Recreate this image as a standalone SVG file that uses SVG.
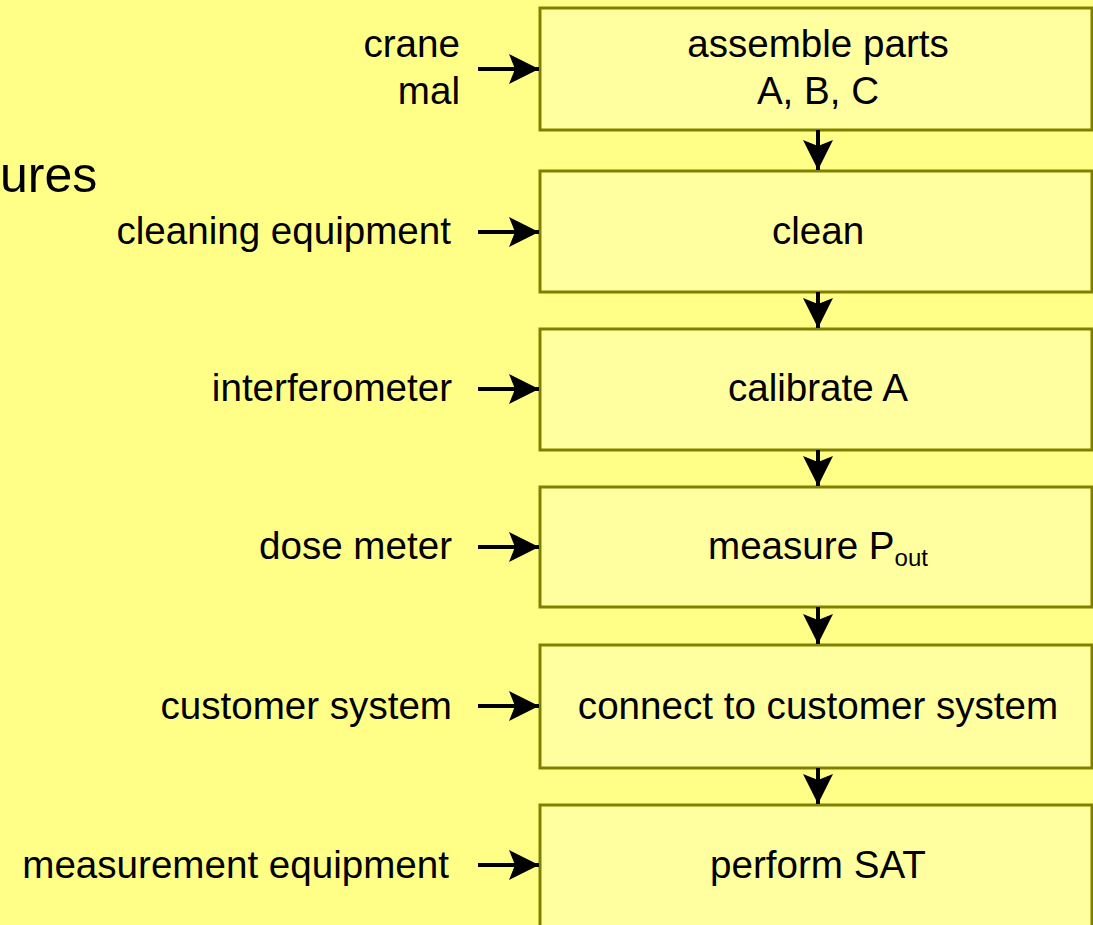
<svg xmlns="http://www.w3.org/2000/svg" width="1093" height="925" viewBox="0 0 1093 925">
<style>
.box{fill:#FFFFA0;stroke:#808000;stroke-width:3}
.t{font-family:"Liberation Sans",Arial,sans-serif;font-size:38.6px;fill:#000}
.c{text-anchor:middle}
.r{text-anchor:end}
.ln{stroke:#000;stroke-width:4;fill:none}
</style>
<defs>
<marker id="ah" viewBox="0 0 10 10" refX="10" refY="5" markerWidth="7.5" markerHeight="7.5" markerUnits="strokeWidth" orient="auto">
<path d="M0,0 L10,5 L0,10 L2,5 Z" fill="#000"/>
</marker>
</defs>
<rect width="1093" height="925" fill="#FFFF88"/>
<text class="t" x="0" y="192" style="font-size:50px">ures</text>
<g id="n1"><rect class="box" x="540" y="8" width="552" height="122"/><text class="t c" x="818" y="57">assemble parts</text><text class="t c" x="818" y="104">A, B, C</text></g>
<g id="n2"><rect class="box" x="540" y="171" width="552" height="121"/><text class="t c" x="818" y="244">clean</text></g>
<g id="n3"><rect class="box" x="540" y="329" width="552" height="121"/><text class="t c" x="818" y="401">calibrate A</text></g>
<g id="n4"><rect class="box" x="540" y="487" width="552" height="120"/><text class="t c" x="818" y="559">measure P<tspan font-size="24" dy="7">out</tspan></text></g>
<g id="n5"><rect class="box" x="540" y="645" width="552" height="123"/><text class="t c" x="818" y="719">connect to customer system</text></g>
<g id="n6"><rect class="box" x="540" y="805" width="552" height="130"/><text class="t c" x="818" y="878">perform SAT</text></g>
<g id="labels">
<text class="t r" x="460" y="57">crane</text>
<text class="t r" x="460" y="104">mal</text>
<text class="t r" x="451" y="244">cleaning equipment</text>
<text class="t r" x="452" y="401">interferometer</text>
<text class="t r" x="452" y="559">dose meter</text>
<text class="t r" x="452" y="719">customer system</text>
<text class="t r" x="449" y="878">measurement equipment</text>
</g>
<g id="connectors">
<line class="ln" x1="818" y1="130" x2="818" y2="170" marker-end="url(#ah)"/>
<line class="ln" x1="818" y1="292" x2="818" y2="328" marker-end="url(#ah)"/>
<line class="ln" x1="818" y1="450" x2="818" y2="486" marker-end="url(#ah)"/>
<line class="ln" x1="818" y1="607" x2="818" y2="644" marker-end="url(#ah)"/>
<line class="ln" x1="818" y1="768" x2="818" y2="804" marker-end="url(#ah)"/>
<line class="ln" x1="478" y1="69" x2="539" y2="69" marker-end="url(#ah)"/>
<line class="ln" x1="478" y1="232" x2="539" y2="232" marker-end="url(#ah)"/>
<line class="ln" x1="478" y1="389" x2="539" y2="389" marker-end="url(#ah)"/>
<line class="ln" x1="478" y1="547" x2="539" y2="547" marker-end="url(#ah)"/>
<line class="ln" x1="478" y1="706" x2="539" y2="706" marker-end="url(#ah)"/>
<line class="ln" x1="478" y1="865" x2="539" y2="865" marker-end="url(#ah)"/>
</g>
</svg>
